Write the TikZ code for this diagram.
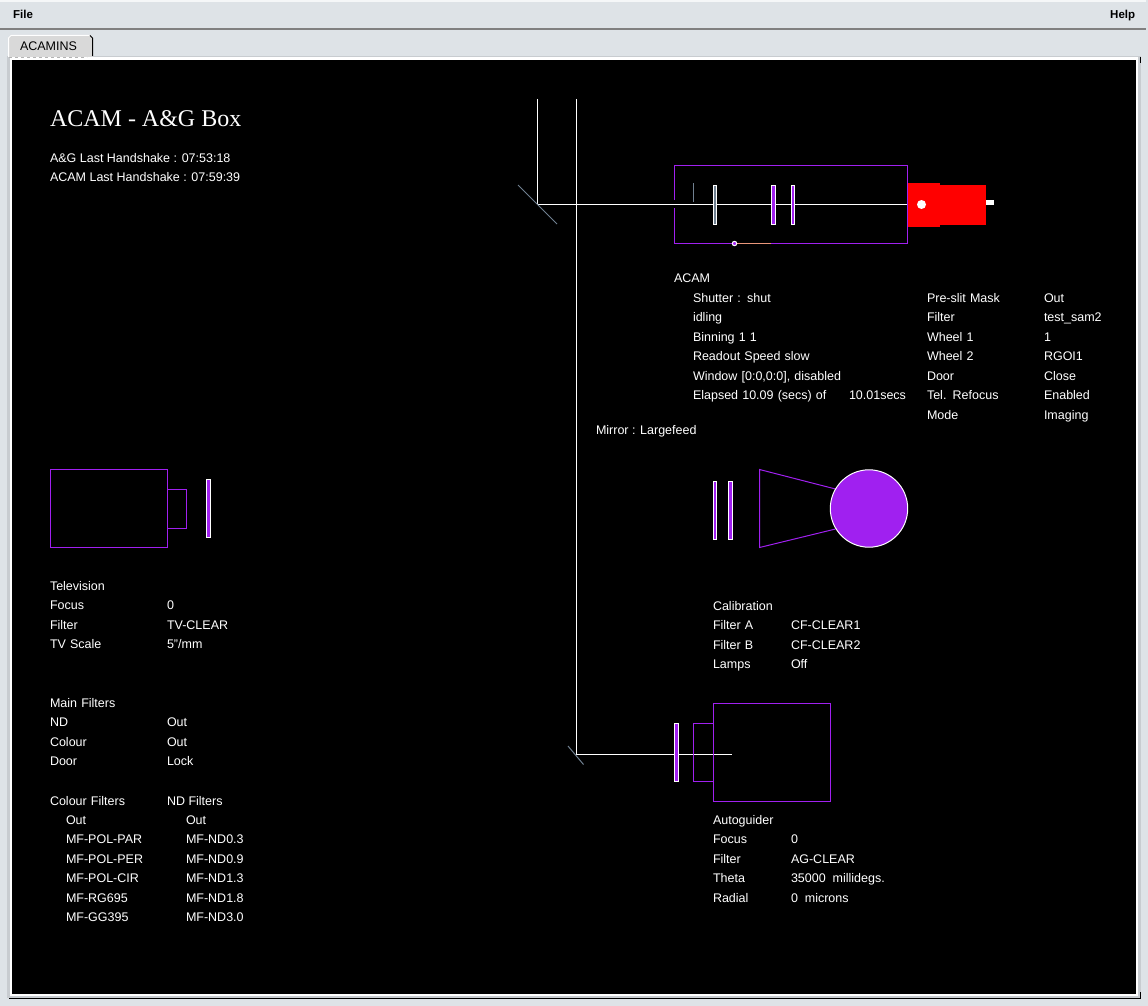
\documentclass[tikz,border=0pt]{standalone}
\usepackage{fontspec}
\setmainfont{Liberation Sans}
\newfontfamily\titlefont{Liberation Serif}
\usetikzlibrary{matrix}
\usetikzlibrary{positioning}

\definecolor{chromebg}{HTML}{DEE3E7}
\definecolor{tabbg}{HTML}{D9D9D9}
\definecolor{barline}{HTML}{808080}
\definecolor{framegrey}{HTML}{C8CCD0}
\definecolor{optpurple}{HTML}{A020F0}
\definecolor{optgrey}{HTML}{708090}
\definecolor{optorange}{HTML}{E9967A}

\tikzset{
  txt/.style={text=white,font=\fontsize{12.5}{14}\selectfont,inner sep=0pt,outer sep=0pt,anchor=base west},
  menutxt/.style={text=black,font=\fontsize{11.5}{13}\selectfont\bfseries,inner sep=0pt,anchor=base west},
  tbl/.style={matrix of nodes,inner sep=0pt,outer sep=0pt,anchor=north west,row sep=7.5pt,
    nodes={text=white,font=\fontsize{12.5}{14}\selectfont,inner sep=0pt,outer sep=0pt,
      text height=9pt,text depth=3pt,anchor=base west,align=left}},
  beam/.style={draw=white,line width=1pt},
  mirror/.style={draw=optgrey,line width=1pt},
  housing/.style={draw=optpurple,line width=1pt},
  filterbar/.style={draw=white,line width=1pt,fill=optpurple},
  greybar/.style={draw=white,line width=1pt,fill=optgrey}
}

\begin{document}
\begin{tikzpicture}[x=1pt,y=-1pt]

  \useasboundingbox (0,0) rectangle (1148,1006);

  % window chrome
  \fill [chromebg] (0,0) rectangle (1148,1006);
  \fill [white!70!chromebg] (0,0) rectangle (1146,2);
  \fill [barline] (0,28) rectangle (1146,30.5);
  \node [menutxt] (menufile) at (13,18.5) {File};
  \node [menutxt] (menuhelp) at (1110,18.5) {Help};
  \fill [framegrey] (7,56) rectangle (1141,998);
  \fill [white] (10,57) rectangle (1138,996);
  \fill [black] (9,998) rectangle (1141,999);
  \fill [black] (1140,57) rectangle (1141,63);
  \fill [black] (1140,992) rectangle (1141,999);
  \fill [black] (12,60.5) rectangle (1136,994);
  \fill [tabbg] (8,57) -- (8,38) -- (11,35) -- (90,35) -- (92,37) -- (92,57) -- cycle;
  \draw [white,line width=1pt] (8.5,57) -- (8.5,38) -- (11,35.5) -- (90,35.5);
  \draw [black,line width=1pt] (90,35.5) -- (92.5,38) -- (92.5,56);
  \node [txt,text=black] (tabname) at (20,51) {ACAMINS};
  \draw [barline!60!white,line width=1pt,dashed] (9,57.5) -- (87,57.5);

  % titles
  \node [txt,font=\titlefont\fontsize{24}{28}\selectfont] (title) at (50,127) {ACAM - A\&G Box};
  \node [txt] (aghand) at (50,162) {A\&G Last Handshake : 07:53:18};
  \node [txt] (acamhand) at (50,181) {ACAM Last Handshake : 07:59:39};

  % light paths
  \coordinate (topa) at (537.5,99);
  \coordinate (topb) at (576.5,99);
  \coordinate (foldacam) at (537.5,204.5);
  \coordinate (acamend) at (907.5,204.5);
  \coordinate (foldag) at (576.5,754.5);
  \coordinate (agend) at (732,754.5);
  \draw [beam] (topa) -- (foldacam) -- (acamend);
  \draw [beam] (topb) -- (foldag) -- (agend);
  \draw [mirror] (518,185) -- (557,224);
  \draw [mirror] (568,746) -- (583.5,764.5);

  % acam
  \draw [housing] (674.5,199.5) -- (674.5,165.5) -- (907.5,165.5) -- (907.5,243.5)
    -- (674.5,243.5) -- (674.5,208);
  \draw [optorange,line width=1pt] (734.5,243.5) -- (771,243.5);
  \draw [optgrey,line width=1pt] (693.5,183) -- (693.5,202);
  \draw [greybar] (713.5,185.5) rectangle (716.5,224.5);
  \draw [filterbar] (771.5,185.5) rectangle (775.5,224.5);
  \draw [filterbar] (791.5,185.5) rectangle (794.5,224.5);
  \draw [filterbar] (734.5,243.5) circle (2.2pt);
  \fill [red] (907.5,183) rectangle (940,227);
  \fill [red] (940,185) rectangle (986,225);
  \fill [white] (986,200) rectangle (994,205);
  \fill [white] (921.5,204.5) circle (4.5pt);

  \node [txt] (acamlab) at (674,282) {ACAM};
  \matrix [tbl,column 1/.style={nodes={text width=156pt}}] (acamstat) at (693,293) {
    Shutter : shut \\
    idling \\
    Binning 1 1 \\
    Readout Speed slow \\
    Window [0:0,0:0], disabled \\
    Elapsed 10.09 (secs) of & 10.01secs \\
  };
  \matrix [tbl,column 1/.style={nodes={text width=117pt}}] (acamcfg) at (927,293) {
    Pre-slit Mask & Out \\
    Filter & test\_sam2 \\
    Wheel 1 & 1 \\
    Wheel 2 & RGOI1 \\
    Door & Close \\
    Tel. Refocus & Enabled \\
    Mode & Imaging \\
  };
  \node [txt] (mirrorlab) at (596,434) {Mirror : Largefeed};

  % television
  \draw [housing] (50.5,469.5) rectangle (167.5,547.5);
  \draw [housing] (167.5,489.5) rectangle (186.5,528.5);
  \draw [filterbar] (206.5,479.5) rectangle (210.5,537.5);
  \matrix [tbl,column 1/.style={nodes={text width=117pt}}] (tvtbl) at (50,581) {
    Television \\
    Focus & 0 \\
    Filter & TV-CLEAR \\
    TV Scale & 5"/mm \\
  };

  % main filters
  \matrix [tbl,column 1/.style={nodes={text width=117pt}}] (mainfilt) at (50,698) {
    Main Filters \\
    ND & Out \\
    Colour & Out \\
    Door & Lock \\
  };
  \matrix [tbl,column 1/.style={nodes={text width=117pt}}] (filthead) at (50,796) {
    Colour Filters & ND Filters \\
  };
  \matrix [tbl,column 1/.style={nodes={text width=120pt}}] (filtlist) at (66,815) {
    Out & Out \\
    MF-POL-PAR & MF-ND0.3 \\
    MF-POL-PER & MF-ND0.9 \\
    MF-POL-CIR & MF-ND1.3 \\
    MF-RG695 & MF-ND1.8 \\
    MF-GG395 & MF-ND3.0 \\
  };

  % calibration
  \draw [filterbar] (713.5,481.5) rectangle (716.5,539.5);
  \draw [filterbar] (728.5,481.5) rectangle (732.5,539.5);
  \draw [housing] (835.5,489) -- (759.5,469.5) -- (759.5,547.5) -- (835.5,529);
  \draw [filterbar] (869,508.5) circle (38.7pt);
  \matrix [tbl,column 1/.style={nodes={text width=78pt}}] (caltbl) at (713,601) {
    Calibration \\
    Filter A & CF-CLEAR1 \\
    Filter B & CF-CLEAR2 \\
    Lamps & Off \\
  };

  % autoguider
  \draw [filterbar] (674.5,723.5) rectangle (678.5,781.5);
  \draw [housing] (693.5,723.5) rectangle (713.5,781.5);
  \draw [housing] (713.5,703.5) rectangle (830.5,801.5);
  \matrix [tbl,column 1/.style={nodes={text width=78pt}}] (agtbl) at (713,815) {
    Autoguider \\
    Focus & 0 \\
    Filter & AG-CLEAR \\
    Theta & 35000\ \ millidegs. \\
    Radial & 0\ \ microns \\
  };

\end{tikzpicture}
\end{document}
